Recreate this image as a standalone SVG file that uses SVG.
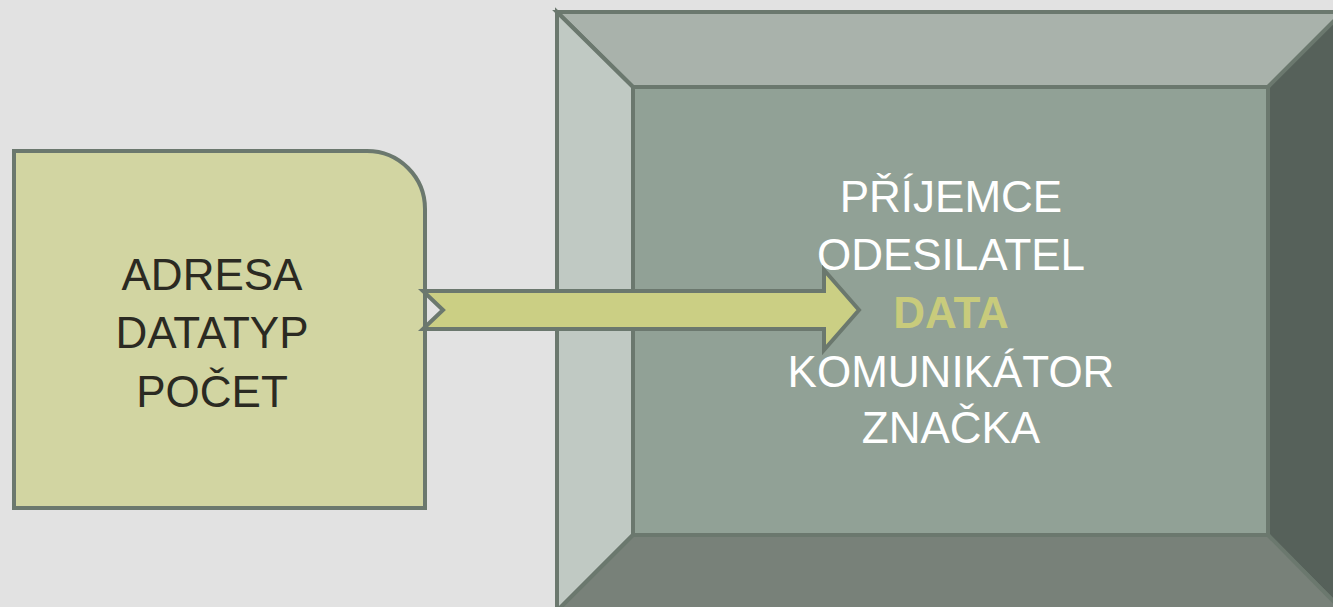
<svg xmlns="http://www.w3.org/2000/svg" width="1333" height="607" viewBox="0 0 1333 607">
  <style>
    .edge { stroke: #6b786e; stroke-width: 4; stroke-linejoin: miter; }
    .label { font-family: "Liberation Sans", Arial, sans-serif; font-size: 44px; text-anchor: middle; }
    .dark { fill: #2b2a22; }
    .light { fill: #ffffff; }
    .accent { fill: #c8cb7c; font-weight: bold; }
  </style>

  <!-- page background -->
  <rect x="0" y="0" width="1333" height="607" fill="#e2e2e2"/>

  <!-- bevelled frame holding the message fields -->
  <g id="message-frame">
    <polygon class="edge" fill="#a9b2ab" points="557,12 1343,12 1268,87 633,87"/>
    <polygon class="edge" fill="#c0c9c3" points="557,12 633,87 633,535 557,611"/>
    <polygon class="edge" fill="#56615a" points="1343,12 1343,611 1268,535 1268,87"/>
    <polygon class="edge" fill="#788179" points="633,535 1268,535 1343,611 557,611"/>
    <rect class="edge" fill="#91a196" x="633" y="87" width="635" height="448"/>
    <text class="label light" x="951" y="212">PŘÍJEMCE</text>
    <text class="label light" x="951" y="270">ODESILATEL</text>
    <text class="label light" x="951" y="387">KOMUNIKÁTOR</text>
    <text class="label light" x="951" y="443">ZNAČKA</text>
  </g>

  <!-- request block -->
  <g id="request-block">
    <path class="edge" fill="#d2d5a2" d="M14,151 H367 A58,58 0 0 1 425,209 V508 H14 Z"/>
    <text class="label dark" x="212" y="290">ADRESA</text>
    <text class="label dark" x="212" y="348">DATATYP</text>
    <text class="label dark" x="212" y="407">POČET</text>
  </g>

  <!-- notched arrow from the request into the frame -->
  <g id="connectors">
    <polygon class="edge" fill="#cbcf84" points="423,291 824,291 824,270 859,310 824,350 824,329 423,329 443,310"/>
  </g>

  <g id="data-field">
    <text class="label accent" x="951" y="328">DATA</text>
  </g>
</svg>
